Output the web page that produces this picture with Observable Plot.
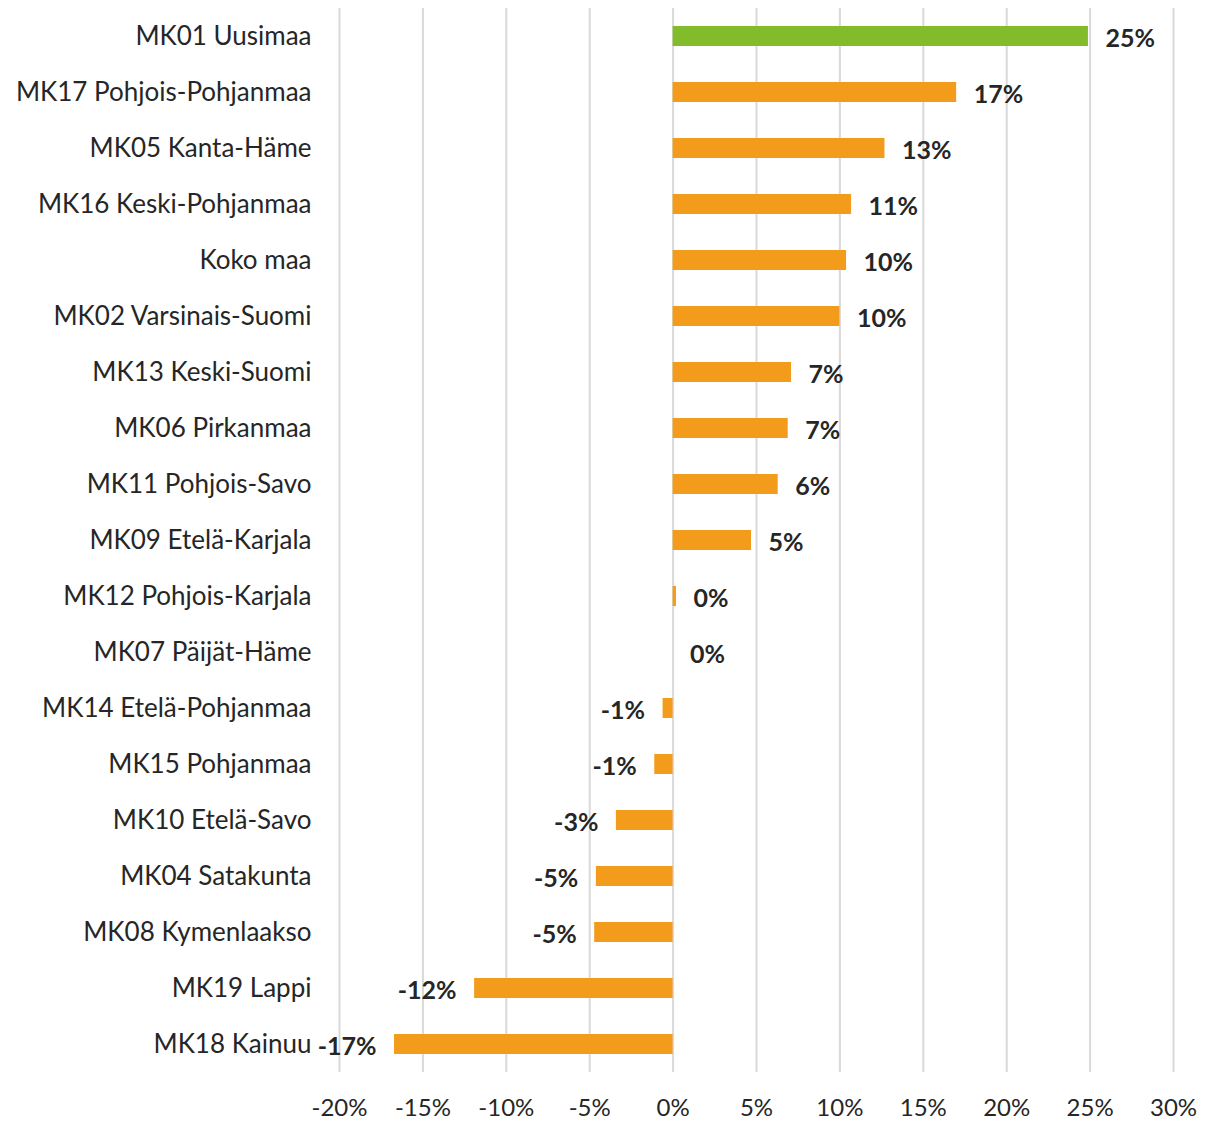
<!DOCTYPE html>
<html><head><meta charset="utf-8">
<script src="https://cdn.jsdelivr.net/npm/d3@7"></script>
<script src="https://cdn.jsdelivr.net/npm/@observablehq/plot@0.6"></script>
<style>
body{margin:0;background:#fff;}
#chart svg{font-family:Lato,"Open Sans",sans-serif;}
</style></head>
<body><div id="chart"></div>
<script>
const regions = ["MK01 Uusimaa","MK17 Pohjois-Pohjanmaa","MK05 Kanta-Häme","MK16 Keski-Pohjanmaa","Koko maa","MK02 Varsinais-Suomi","MK13 Keski-Suomi","MK06 Pirkanmaa","MK11 Pohjois-Savo","MK09 Etelä-Karjala","MK12 Pohjois-Karjala","MK07 Päijät-Häme","MK14 Etelä-Pohjanmaa","MK15 Pohjanmaa","MK10 Etelä-Savo","MK04 Satakunta","MK08 Kymenlaakso","MK19 Lappi","MK18 Kainuu"];
const change = [24.9,17.0,12.7,10.7,10.4,10.0,7.1,6.9,6.3,4.7,0.2,0.0,-0.6,-1.1,-3.4,-4.6,-4.7,-11.9,-16.7];
const xTicks = [-20,-15,-10,-5,0,5,10,15,20,25,30];

const data = regions.map((r,i)=>({region:r, value:change[i], label:`${Math.round(change[i])}%`}));

const chart = Plot.plot({
  width:1205, height:1123,
  marginLeft:339, marginRight:32, marginTop:8, marginBottom:51,
  x:{domain:[-20,30], ticks:xTicks, tickFormat:d=>`${d}%`},
  y:{domain:regions, paddingInner:0.64, paddingOuter:0.32},
  style:{fontSize:"24px", color:"#262626", overflow:"visible"},
  marks:[
    Plot.ruleX(xTicks,{stroke:"#d9d9d9", strokeWidth:2}),
    Plot.barX(data,{x:"value", y:"region", fill:d=>d.region==="MK01 Uusimaa"?"#82bc2a":"#f39b1a"}),
    Plot.text(data.filter(d=>d.value>=0),{x:"value", y:"region", text:"label", textAnchor:"start", dx:17, dy:2, fontWeight:"bold", fontSize:25, fill:"#262626"}),
    Plot.text(data.filter(d=>d.value<0),{x:"value", y:"region", text:"label", textAnchor:"end", dx:-18, dy:2, fontWeight:"bold", fontSize:25, fill:"#262626"}),
    Plot.axisY({tickSize:0, tickPadding:28, label:null, fontSize:26}),
    Plot.axisX({ticks:xTicks, tickFormat:d=>`${d}%`, tickSize:0, tickPadding:26, label:null, fontSize:24})
  ]
});
document.getElementById("chart").append(chart);
</script></body></html>
